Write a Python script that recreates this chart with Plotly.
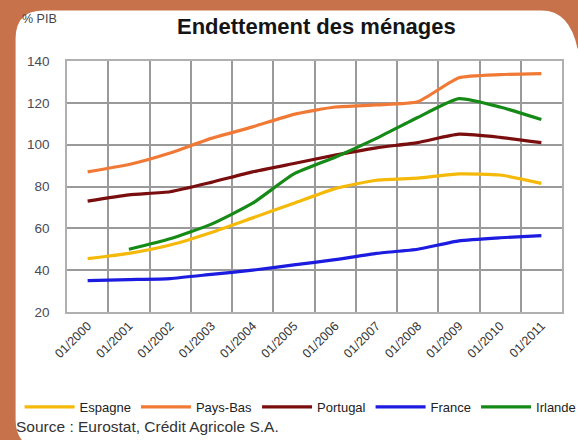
import plotly.graph_objects as go

# ---- data ----
years = ["01/2000", "01/2001", "01/2002", "01/2003", "01/2004", "01/2005",
         "01/2006", "01/2007", "01/2008", "01/2009", "01/2010", "01/2011"]
espagne = [45.5, 48, 52, 58, 65, 72, 79, 83, 84, 86, 85.5, 81.5]
pays_bas = [87, 90.5, 96, 103, 108.5, 114.5, 118, 119, 120.5, 132, 133.5, 134]
portugal = [73, 76, 77.5, 82, 87, 91, 95, 98.5, 101, 105, 103.5, 101]
france = [35, 35.5, 36, 38, 40, 42.5, 45, 48, 50, 54, 55.5, 56.5]
irlande = [None, 50, 55, 62, 72, 86, 94, 103, 113, 122, 118, 112]

series = [
    ("Espagne", espagne, "#f5b90a"),
    ("Pays-Bas", pays_bas, "#f07a35"),
    ("Portugal", portugal, "#7a0d0d"),
    ("France", france, "#1c1ce0"),
    ("Irlande", irlande, "#168a16"),
]

W, H = 578, 440
L, R, T, B = 66.5, 15.5, 60.5, 128
PW, PH = W - L - R, H - T - B


def fx(px):
    return (px - L) / PW


def fy(py):
    return (H - B - py) / PH


fig = go.Figure()
for name, vals, col in series:
    fig.add_trace(go.Scatter(
        x=years, y=vals, name=name, mode="lines",
        line=dict(color=col, width=3.2, shape="spline", smoothing=0.5),
        connectgaps=False,
    ))

# brown frame around the white rounded panel (top and left)
x0, y0, y1, r = 15, 10, 448, 28
xc = 578
frame = (f"M {fx(-5)},{fy(-5)} L {fx(585)},{fy(-5)} L {fx(585)},{fy(y0 + r + 10)} "
         f"L {fx(xc)},{fy(y0 + r + 10)} Q {fx(xc - 8)},{fy(y0)} {fx(xc - r - 8)},{fy(y0)} "
         f"L {fx(x0 + r)},{fy(y0)} Q {fx(x0)},{fy(y0)} {fx(x0)},{fy(y0 + r)} "
         f"L {fx(x0)},{fy(y1 - r)} Q {fx(x0)},{fy(y1)} {fx(x0 + r)},{fy(y1)} "
         f"L {fx(-5)},{fy(y1)} Z")
fig.add_shape(type="path", path=frame, xref="paper", yref="paper",
              fillcolor="#c8724b", line=dict(width=0), layer="below")

font = "Liberation Sans, Arial, sans-serif"
fig.add_annotation(text="<b>Endettement des ménages</b>", x=fx(317), y=fy(26),
                   xref="paper", yref="paper", showarrow=False, yanchor="middle",
                   xanchor="center",
                   font=dict(family=font, size=22, color="#151515"))
fig.add_annotation(text="% PIB", x=fx(19), y=fy(18), xref="paper", yref="paper",
                   xanchor="left", yanchor="middle", showarrow=False,
                   font=dict(family=font, size=12.5, color="#444"))
fig.add_annotation(text="Source : Eurostat, Crédit Agricole S.A.", x=fx(13), y=fy(427),
                   xref="paper", yref="paper", xanchor="left", yanchor="middle",
                   showarrow=False,
                   font=dict(family=font, size=15.5, color="#333"))

fig.update_layout(
    width=W, height=H,
    margin=dict(l=L, r=R, t=T, b=B, autoexpand=False),
    paper_bgcolor="white",
    plot_bgcolor="white",
    font=dict(family=font, color="#333"),
    showlegend=True,
    legend=dict(orientation="h", x=fx(19), y=fy(392), xanchor="left", yanchor="top",
                font=dict(family=font, size=13, color="#222"),
                bgcolor="rgba(0,0,0,0)", itemwidth=50, tracegroupgap=0,
                traceorder="normal"),
)
fig.update_xaxes(
    type="category", tickson="boundaries", showgrid=True, gridcolor="#9a9a9a",
    gridwidth=1.5, showline=True, linecolor="#b0b0b0", linewidth=1.5, mirror=True,
    tickangle=-45, ticks="outside", ticklen=6, tickcolor="rgba(0,0,0,0)",
    tickfont=dict(family=font, size=12.5, color="#333"), range=[-0.5, 11.5],
    automargin=False,
)
fig.update_yaxes(
    range=[20, 140], dtick=20, showgrid=True, gridcolor="#9a9a9a", gridwidth=1.5,
    showline=True, linecolor="#b0b0b0", linewidth=1.5, mirror=True, zeroline=False,
    ticks="outside", ticklen=13, tickcolor="rgba(0,0,0,0)",
    tickfont=dict(family=font, size=13.5, color="#4a4a55"), automargin=False,
)

fig.write_html("out.html", config={"displayModeBar": False},
               post_script="document.body.style.margin='0';document.body.style.overflow='hidden';")
